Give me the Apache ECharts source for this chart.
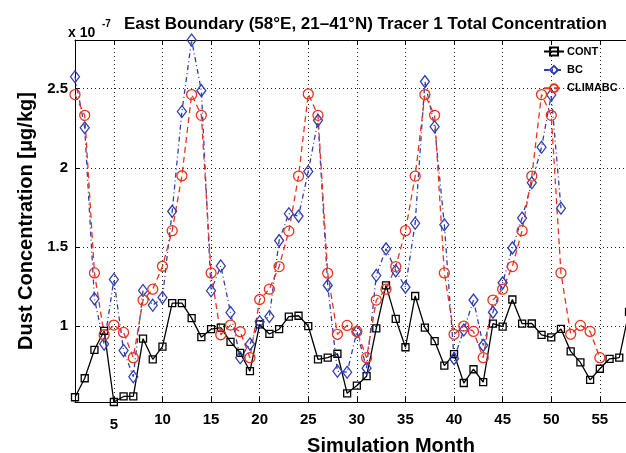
<!DOCTYPE html>
<html>
<head>
<meta charset="utf-8">
<script src="https://cdn.jsdelivr.net/npm/echarts@6/dist/echarts.min.js"></script>
<style>
  html, body { margin: 0; background: #fff; }
  #chart { width: 626px; height: 453px; }
</style>
</head>
<body>
<div id="chart"></div>
<script>
// Values are in units of 1e-7 ug/kg, month index starts at 1.
const contValues = [
  0.55, 0.67, 0.85, 0.97, 0.52, 0.555, 0.555, 0.92, 0.79, 0.87,
  1.145, 1.145, 1.05, 0.93, 0.98, 0.99, 0.90, 0.83, 0.715, 1.01,
  0.95, 0.98, 1.06, 1.065, 1.0, 0.79, 0.80, 0.825, 0.575, 0.624,
  0.683, 0.985, 1.257, 1.045, 0.866, 1.19, 0.99, 0.905, 0.75, 0.823,
  0.64, 0.727, 0.645, 1.015, 0.996, 1.168, 1.015, 1.016, 0.944, 0.928,
  0.982, 0.84, 0.77, 0.66, 0.73, 0.793, 0.80, 1.09
];
const bcValues = [
  2.576, 2.253, 1.172, 0.886, 1.294, 0.845, 0.68, 1.225, 1.132, 1.18,
  1.725, 2.356, 2.808, 2.488, 1.223, 1.38, 1.086, 0.80, 0.886, 1.027,
  1.06, 1.54, 1.71, 1.695, 1.977, 2.30, 1.257, 0.714, 0.708, 0.964,
  0.734, 1.32, 1.488, 1.349, 1.246, 1.65, 2.545, 2.26, 1.64, 0.794,
  0.975, 1.164, 0.878, 1.088, 1.273, 1.494, 1.683, 1.906, 2.13, 2.46,
  1.745
];
const climabcValues = [
  2.463, 2.332, 1.336, 0.945, 1.006, 0.96, 0.80, 1.164, 1.233, 1.378,
  1.603, 1.95, 2.463, 2.332, 1.336, 0.945, 1.006, 0.964, 0.80, 1.168,
  1.233, 1.376, 1.60, 1.948, 2.467, 2.332, 1.334, 0.948, 1.004, 0.966,
  0.80, 1.164, 1.233, 1.376, 1.603, 1.948, 2.463, 2.332, 1.336, 0.948,
  1.0, 0.966, 0.80, 1.164, 1.233, 1.376, 1.603, 1.948, 2.463, 2.332,
  1.336, 0.948, 1.004, 0.966, 0.80
];
const xTicks = [5, 10, 15, 20, 25, 30, 35, 40, 45, 50, 55];
const yTicks = [1, 1.5, 2, 2.5];

const FONT = '"Liberation Sans", Arial, Helvetica, sans-serif';

// month numbers are the position in each list (1-based)
const toPoints = (values) => values.map((v, i) => [i + 1, v]);

const chart = echarts.init(document.getElementById('chart'), null, { renderer: 'canvas' });

const gridLine = { show: true, lineStyle: { color: '#222', width: 1, type: [1, 3] } };

chart.setOption({
  animation: false,
  backgroundColor: '#fff',
  title: {
    text: 'East Boundary (58°E, 21–41°N) Tracer 1 Total Concentration',
    left: 119,
    top: 11,
    textStyle: { fontFamily: FONT, fontSize: 17, fontWeight: 'bold', color: '#000' },
  },
  graphic: [
    { type: 'text', left: 68, top: 26, style: { text: 'x 10', font: 'bold 14px ' + FONT, fill: '#000' } },
    { type: 'text', left: 102, top: 19, style: { text: '-7', font: 'bold 10px ' + FONT, fill: '#000' } },
  ],
  legend: {
    orient: 'vertical',
    left: 543,
    top: 46,
    padding: 0,
    itemWidth: 20,
    itemHeight: 10,
    itemGap: 7.4,
    textStyle: { fontFamily: FONT, fontSize: 11, fontWeight: 'bold', color: '#000', padding: [0, 0, 0, -2] },
    data: ['CONT', 'BC', 'CLIMABC'],
  },
  grid: { left: 75, right: -3, top: 40, bottom: 51, outerBoundsMode: 'none' },
  xAxis: [
    {
      type: 'value',
      min: 1,
      max: 58,
      name: 'Simulation Month',
      nameLocation: 'middle',
      nameGap: 30,
      nameTextStyle: { fontFamily: FONT, fontSize: 20, fontWeight: 'bold', color: '#000', padding: [0, 0, 0, 78] },
      axisLine: { show: true, lineStyle: { color: '#000', width: 1 } },
      axisTick: { show: true, inside: true, length: 5, customValues: xTicks, lineStyle: { color: '#000' } },
      axisLabel: {
        customValues: xTicks,
        margin: 10,
        fontFamily: FONT,
        fontSize: 15,
        fontWeight: 'bold',
        color: '#000',
        formatter: (v) => (v === 5 ? '{low|5}' : String(v)),
        rich: { low: { fontFamily: FONT, fontSize: 15, fontWeight: 'bold', color: '#000', padding: [5, 0, 0, 0] } },
      },
      splitLine: gridLine,
    },
    {
      type: 'value',
      position: 'top',
      min: 1,
      max: 58,
      axisLine: { show: true, onZero: false, lineStyle: { color: '#000', width: 1 } },
      axisTick: { show: true, inside: true, length: 5, customValues: xTicks, lineStyle: { color: '#000' } },
      axisLabel: { show: false },
      splitLine: { show: false },
    },
  ],
  yAxis: {
    type: 'value',
    min: 0.52,
    max: 2.808,
    name: 'Dust Concentration [μg/kg]',
    nameLocation: 'middle',
    nameGap: 37,
    nameRotate: 90,
    nameTextStyle: { fontFamily: FONT, fontSize: 20, fontWeight: 'bold', color: '#000' },
    axisLine: { show: true, lineStyle: { color: '#000', width: 1 } },
    axisTick: { show: true, inside: true, length: 5, customValues: yTicks, lineStyle: { color: '#000' } },
    axisLabel: {
      customValues: yTicks,
      margin: 7,
      fontFamily: FONT,
      fontSize: 15,
      fontWeight: 'bold',
      color: '#000',
    },
    splitLine: gridLine,
  },
  series: [
    {
      name: 'CONT',
      type: 'line',
      data: toPoints(contValues),
      symbol: 'rect',
      symbolSize: 7,
      itemStyle: { color: 'rgba(255,255,255,0)', borderColor: '#000', borderWidth: 1.3 },
      lineStyle: { color: '#000', width: 1.3 },
      emphasis: { disabled: true },
    },
    {
      name: 'BC',
      type: 'line',
      data: toPoints(bcValues),
      symbol: 'diamond',
      symbolSize: [9, 12],
      itemStyle: { color: 'rgba(255,255,255,0)', borderColor: '#2f3fb0', borderWidth: 1.3 },
      lineStyle: { color: '#2f3fb0', width: 1.3, type: [5, 3, 1, 3] },
      emphasis: { disabled: true },
    },
    {
      name: 'CLIMABC',
      type: 'line',
      data: toPoints(climabcValues),
      symbol: 'circle',
      symbolSize: 10,
      itemStyle: { color: 'rgba(255,255,255,0)', borderColor: '#e8331f', borderWidth: 1.3 },
      lineStyle: { color: '#e8331f', width: 1.3, type: [6, 4] },
      emphasis: { disabled: true },
    },
  ],
});
</script>
</body>
</html>
